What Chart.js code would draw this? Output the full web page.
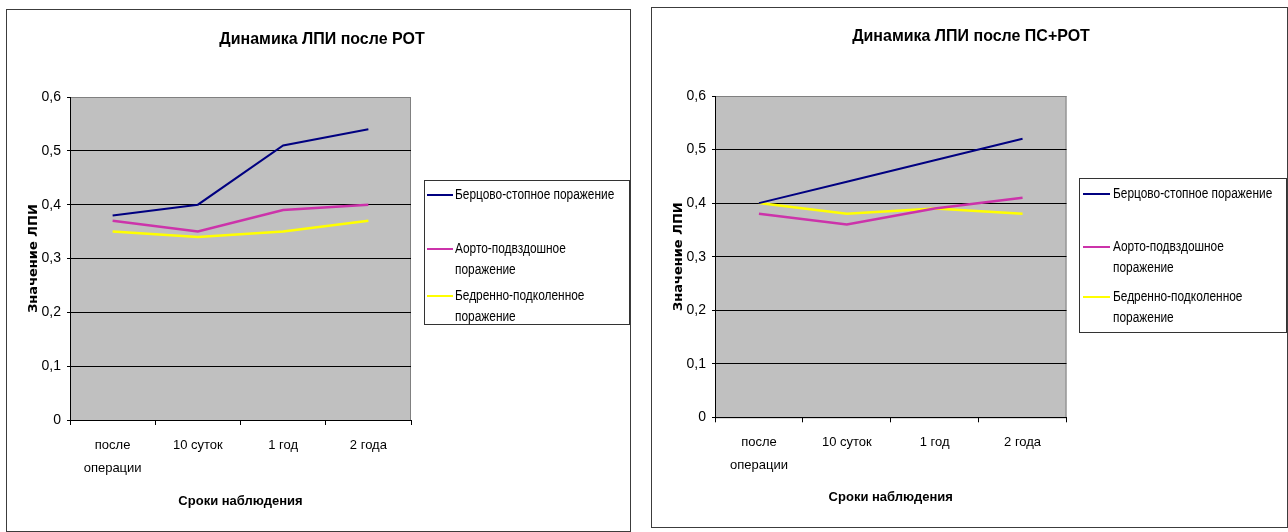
<!DOCTYPE html>
<html>
<head>
<meta charset="utf-8">
<script src="https://cdn.jsdelivr.net/npm/chart.js@4.4.1/dist/chart.umd.min.js"></script>
<style>
  body { margin: 0; background: #fff; width: 1288px; height: 532px; overflow: hidden; position: relative; }
  canvas { position: absolute; }
</style>
</head>
<body>
<canvas id="chartRot" width="625" height="523" style="left:6px;top:9px"></canvas>
<canvas id="chartPsRot" width="637" height="521" style="left:651px;top:7px"></canvas>
<script>
var categories = [['после', 'операции'], '10 суток', '1 год', '2 года'];
var seriesNames = ['Берцово-стопное поражение', 'Аорто-подвздошное\nпоражение', 'Бедренно-подколенное\nпоражение'];
var yTickLabels = ['0', '0,1', '0,2', '0,3', '0,4', '0,5', '0,6'];

// после РОТ
var rotTibial = [0.38, 0.40, 0.51, 0.54];
var rotAortoIliac = [0.37, 0.35, 0.39, 0.40];
var rotFemPop = [0.35, 0.34, 0.35, 0.37];

// после ПС+РОТ
var psRotTibial = [0.40, 0.44, 0.48, 0.52];
var psRotAortoIliac = [0.38, 0.36, 0.39, 0.41];
var psRotFemPop = [0.40, 0.38, 0.39, 0.38];

var colors = ['#000080', '#CC33AA', '#FFFF00'];
var widths = [2, 2.5, 2.5];
var family = "'Liberation Sans', Arial, sans-serif";

// text squeezed sideways, no narrow font installed
function narrowText(ctx, text, x, y, sx) {
  ctx.save();
  ctx.translate(x, y);
  ctx.scale(sx, 1);
  ctx.fillText(text, 0, 0);
  ctx.restore();
}

// excel-ish frame, grey plot area, title and boxed legend
var excelLook = {
  id: 'excelLook',
  beforeDraw: function(chart, args, opts) {
    var ctx = chart.ctx, a = chart.chartArea;
    ctx.save();
    ctx.fillStyle = '#fff';
    ctx.fillRect(0, 0, chart.width, chart.height);
    ctx.strokeStyle = '#3c3c3c';
    ctx.lineWidth = 1;
    ctx.strokeRect(0.5, 0.5, chart.width - 1, chart.height - 1);
    ctx.fillStyle = '#C0C0C0';
    ctx.fillRect(a.left, a.top, a.right - a.left, a.bottom - a.top);
    ctx.strokeStyle = '#808080';
    ctx.strokeRect(a.left + 0.5, a.top + 0.5, a.right - a.left - 1, a.bottom - a.top);
    ctx.fillStyle = '#000';
    ctx.font = 'bold 17px ' + family;
    ctx.textAlign = 'center';
    ctx.textBaseline = 'middle';
    narrowText(ctx, opts.title, opts.titleX, opts.titleY, 0.94);
    ctx.restore();
  },
  afterDraw: function(chart, args, opts) {
    var ctx = chart.ctx, b = opts.legend;
    ctx.save();
    ctx.fillStyle = '#fff';
    ctx.fillRect(b.x, b.y, b.w, b.h);
    ctx.strokeStyle = '#333';
    ctx.lineWidth = 1;
    ctx.strokeRect(b.x + 0.5, b.y + 0.5, b.w, b.h);
    ctx.font = '14px ' + family;
    ctx.textAlign = 'left';
    ctx.textBaseline = 'middle';
    chart.data.datasets.forEach(function(ds, i) {
      var y = b.y + b.items[i];
      ctx.strokeStyle = ds.borderColor;
      ctx.lineWidth = 2;
      ctx.beginPath();
      ctx.moveTo(b.x + b.lineFrom, y);
      ctx.lineTo(b.x + b.lineTo, y);
      ctx.stroke();
      ctx.fillStyle = '#000';
      ds.label.split('\n').forEach(function(line, k) {
        narrowText(ctx, line, b.x + b.textX, y + k * 21, 0.85);
      });
    });
    ctx.restore();
  }
};

function makeChart(id, values, look, pad) {
  var ctx = document.getElementById(id).getContext('2d');
  return new Chart(ctx, {
    type: 'line',
    data: {
      labels: categories,
      datasets: values.map(function(v, i) {
        return {
          label: seriesNames[i],
          data: v,
          borderColor: colors[i],
          backgroundColor: colors[i],
          borderWidth: widths[i],
          pointRadius: 0,
          tension: 0,
          fill: false
        };
      })
    },
    options: {
      responsive: false,
      animation: false,
      layout: { padding: pad },
      plugins: {
        legend: { display: false },
        tooltip: { enabled: false },
        excelLook: look
      },
      scales: {
        x: {
          offset: true,
          grid: { offset: true, drawOnChartArea: false, drawTicks: true, tickLength: 5, color: '#000' },
          border: { color: '#000' },
          ticks: { color: '#000', font: { family: family, size: 13, lineHeight: 1.75 }, padding: 9, maxRotation: 0, autoSkip: false },
          title: { display: true, text: 'Сроки наблюдения', color: '#000', font: { family: family, size: 13, weight: 'bold' }, padding: { top: 0, bottom: pad.xTitle } },
          afterFit: function(s) { s.height = 100; }
        },
        y: {
          min: 0,
          max: 0.6,
          ticks: {
            stepSize: 0.1, color: '#000', font: { family: family, size: 14 }, padding: 6,
            callback: function(v, i) { return yTickLabels[i]; }
          },
          grid: {
            color: function(c) { return c.index === 6 ? '#808080' : '#000'; },
            tickColor: '#000',
            tickLength: 3
          },
          border: { color: '#000' },
          title: { display: true, text: 'Значение ЛПИ', color: '#000', font: { family: 'DejaVu Sans', size: 13, weight: 'bold' }, padding: { top: 20, bottom: 0 } },
          afterFit: function(s) { s.width = 64; }
        }
      }
    },
    plugins: [excelLook]
  });
}

makeChart('chartRot', [rotTibial, rotAortoIliac, rotFemPop], {
  title: 'Динамика ЛПИ после РОТ', titleX: 316, titleY: 30,
  legend: { x: 418, y: 171, w: 205, h: 144, items: [15, 69, 116], lineFrom: 3, lineTo: 29, textX: 31 }
}, { top: 88, right: 220, bottom: 12, left: 0, xTitle: 11 });

makeChart('chartPsRot', [psRotTibial, psRotAortoIliac, psRotFemPop], {
  title: 'Динамика ЛПИ после ПС+РОТ', titleX: 320, titleY: 29,
  legend: { x: 428, y: 171, w: 207, h: 154, items: [16, 69, 119], lineFrom: 4, lineTo: 31, textX: 34 }
}, { top: 89, right: 221.5, bottom: 10.7, left: 0, xTitle: 12 });
</script>
</body>
</html>
